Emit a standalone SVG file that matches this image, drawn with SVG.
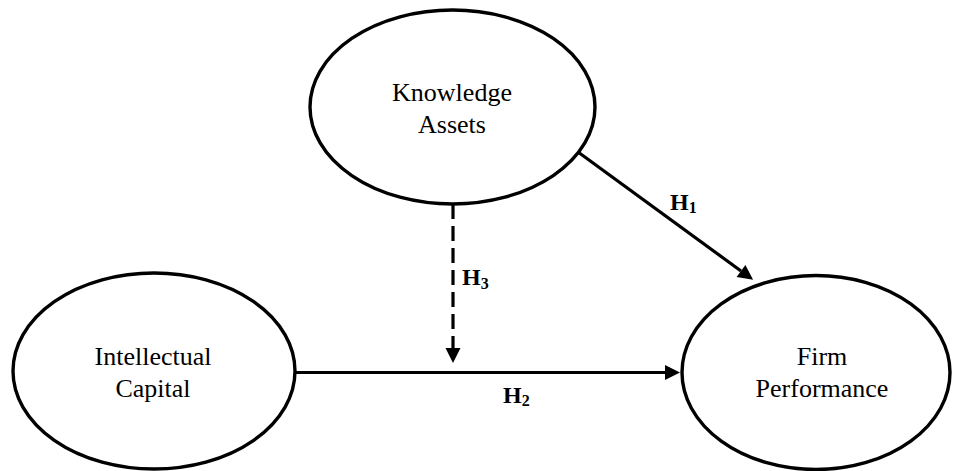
<svg xmlns="http://www.w3.org/2000/svg" width="954" height="471" viewBox="0 0 954 471">
<style>
.node{fill:#fff;stroke:#000;stroke-width:3.4}
.lbl{font-family:"Liberation Serif","Times New Roman",serif;font-size:26px;fill:#000;text-anchor:middle}
.hyp{font-family:"Liberation Serif","Times New Roman",serif;font-size:24px;font-weight:bold;fill:#000}
.sub{font-size:16px}
.conn{stroke:#000;stroke-width:3.2;fill:none}
.dash{stroke-dasharray:15 7}
</style>
<defs>
<marker id="arr" markerUnits="userSpaceOnUse" markerWidth="16" markerHeight="16" refX="0" refY="0" viewBox="0 -8 16 16" orient="auto" overflow="visible">
<path d="M0,-7.5 L15,0 L0,7.5 z" fill="#000"/>
</marker>
</defs>
<rect width="954" height="471" fill="#fff"/>
<g id="connectors">
<line class="conn" x1="578" y1="152" x2="741" y2="271" marker-end="url(#arr)"/>
<line class="conn" x1="295" y1="372.5" x2="665" y2="372.5" marker-end="url(#arr)"/>
<line class="conn dash" x1="453" y1="204" x2="453" y2="348" marker-end="url(#arr)"/>
<text class="hyp" x="670" y="210">H<tspan class="sub" dy="3">1</tspan></text>
<text class="hyp" x="503" y="403">H<tspan class="sub" dy="3">2</tspan></text>
<text class="hyp" x="462" y="285">H<tspan class="sub" dy="4">3</tspan></text>
</g>
<g id="knowledge-assets">
<ellipse class="node" cx="452.5" cy="107" rx="142.5" ry="97"/>
<text class="lbl" x="452" y="101">Knowledge</text>
<text class="lbl" x="452" y="133">Assets</text>
</g>
<g id="intellectual-capital">
<ellipse class="node" cx="154" cy="371" rx="141" ry="98"/>
<text class="lbl" x="153" y="365">Intellectual</text>
<text class="lbl" x="153" y="397">Capital</text>
</g>
<g id="firm-performance">
<ellipse class="node" cx="816" cy="372.5" rx="134" ry="97"/>
<text class="lbl" x="822" y="365">Firm</text>
<text class="lbl" x="822" y="397">Performance</text>
</g>
</svg>
